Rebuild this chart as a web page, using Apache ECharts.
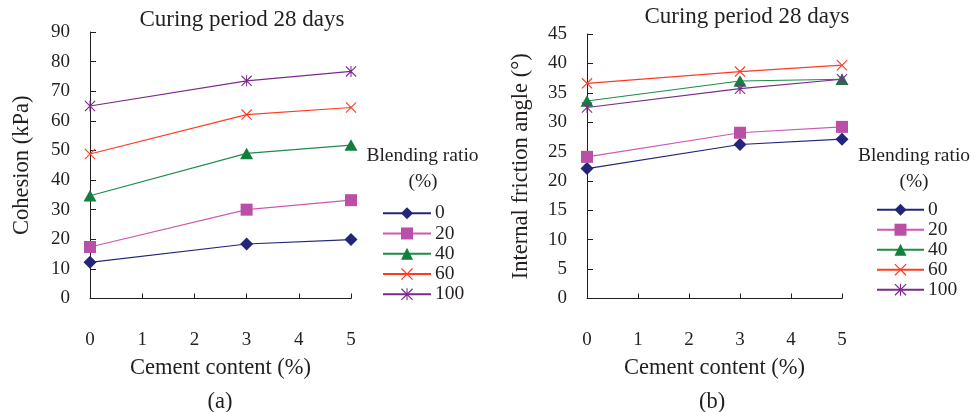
<!DOCTYPE html>
<html>
<head>
<meta charset="utf-8">
<script src="https://cdn.jsdelivr.net/npm/echarts@6/dist/echarts.min.js"></script>
<style>
html,body{margin:0;padding:0;background:#fff;}
#chart{width:974px;height:412px;}
</style>
</head>
<body>
<div id="chart"></div>
<script>
// ---- data ----
var cementContent = [0, 3, 5];
var blendingRatios = ['0', '20', '40', '60', '100'];
var xTicks = [0, 1, 2, 3, 4, 5];
// (a) Cohesion (kPa)
var cohesion0 = [12.2, 18.4, 19.9];
var cohesion20 = [17.4, 30.0, 33.2];
var cohesion40 = [34.7, 49.0, 51.8];
var cohesion60 = [48.8, 62.1, 64.5];
var cohesion100 = [65.0, 73.5, 76.7];
// (b) Internal friction angle (deg)
var friction0 = [22.1, 26.2, 27.1];
var friction20 = [24.1, 28.2, 29.2];
var friction40 = [33.6, 37.0, 37.3];
var friction60 = [36.6, 38.6, 39.7];
var friction100 = [32.5, 35.7, 37.3];

var FONT = '"Liberation Serif", "Times New Roman", serif';
var TXT = '#231f20';

var X_PATH = 'path://M0,0.7L0.7,0L10,9.3L9.3,10Z M9.3,0L10,0.7L0.7,10L0,9.3Z';
var STAR_PATH = 'path://M0,0.7L0.7,0L10,9.3L9.3,10Z M9.3,0L10,0.7L0.7,10L0,9.3Z M4.55,0L5.45,0L5.45,10L4.55,10Z';

var styles = [
  {line: '#23267a', fill: '#22267a', symbol: 'diamond', size: 13},
  {line: '#cc58b6', fill: '#b94fa6', symbol: 'rect', size: 12},
  {line: '#1e8c4a', fill: '#11803f', symbol: 'triangle', size: [13, 11.5]},
  {line: '#ff3a22', fill: '#ff3a22', symbol: X_PATH, size: 11},
  {line: '#7b2a8a', fill: '#7b2a8a', symbol: STAR_PATH, size: 11}
];

function pairs(vals) {
  return cementContent.map(function (x, i) { return [x, vals[i]]; });
}

function makeSeries(idx, valsList) {
  return valsList.map(function (vals, k) {
    var s = styles[k];
    return {
      name: blendingRatios[k],
      type: 'line',
      xAxisIndex: idx,
      yAxisIndex: idx,
      data: pairs(vals),
      symbol: s.symbol,
      symbolSize: s.size,
      showAllSymbol: true,
      lineStyle: {color: s.line, width: 1.2},
      itemStyle: {color: s.fill},
      emphasis: {disabled: true},
      animation: false
    };
  });
}

function xAxis(idx) {
  return {
    gridIndex: idx,
    type: 'value',
    min: 0, max: 5, interval: 1,
    name: 'Cement content (%)',
    nameLocation: 'middle',
    nameGap: 58,
    nameTextStyle: {fontFamily: FONT, fontSize: 22.5, color: TXT},
    axisLine: {show: true, lineStyle: {color: '#231f20', width: 1}},
    axisTick: {show: true, inside: true, length: 5, lineStyle: {color: '#231f20'}},
    axisLabel: {fontFamily: FONT, fontSize: 19, color: TXT, margin: 32,
      formatter: function (v) { return xTicks.indexOf(v) >= 0 ? String(v) : ''; }},
    splitLine: {show: false}
  };
}

function yAxis(idx, max, interval, name, gap) {
  return {
    gridIndex: idx,
    type: 'value',
    min: 0, max: max, interval: interval,
    name: name,
    nameLocation: 'middle',
    nameGap: gap,
    nameTextStyle: {fontFamily: FONT, fontSize: 22.5, color: TXT},
    axisLine: {show: true, lineStyle: {color: '#231f20', width: 1}},
    axisTick: {show: true, inside: true, length: 6, lineStyle: {color: '#231f20'}},
    axisLabel: {fontFamily: FONT, fontSize: 19, color: TXT, margin: 20},
    splitLine: {show: false}
  };
}

function legend(left, top, lh, w) {
  return {
    orient: 'vertical',
    left: left, top: top,
    itemWidth: w, itemHeight: 15, itemGap: 0,
    padding: 0,
    selectedMode: false,
    data: blendingRatios,
    textStyle: {fontFamily: FONT, fontSize: 19.5, color: TXT, lineHeight: lh, padding: [0, 0, 0, -1]}
  };
}

function text(str, x, y, size) {
  return {
    type: 'text', x: x, y: y, silent: true,
    style: {text: str, fontFamily: FONT, fontSize: size, fill: TXT, align: 'center', verticalAlign: 'middle'}
  };
}

var chart = echarts.init(document.getElementById('chart'), null, {renderer: 'canvas'});
chart.setOption({
  animation: false,
  backgroundColor: '#ffffff',
  grid: [
    {left: 90, right: 623, top: 32, bottom: 113.5},
    {left: 587, right: 132, top: 34, bottom: 113.5}
  ],
  xAxis: [xAxis(0), xAxis(1)],
  yAxis: [
    yAxis(0, 90, 10, 'Cohesion (kPa)', 56),
    yAxis(1, 45, 5, 'Internal friction angle (°)', 54)
  ],
  legend: [legend(382, 203, 20.3, 48), legend(876, 199.7, 18.6, 47)],
  tooltip: {show: false},
  graphic: [
    text('Curing period 28 days', 242, 20, 23),
    text('Curing period 28 days', 747, 17, 23),
    text('Blending ratio', 422.5, 156, 19.5),
    text('(%)', 423, 182, 19.5),
    text('Blending ratio', 914, 156, 19.5),
    text('(%)', 914, 182, 19.5),
    text('(a)', 220, 402, 22.5),
    text('(b)', 712, 402, 22.5)
  ],
  series: makeSeries(0, [cohesion0, cohesion20, cohesion40, cohesion60, cohesion100])
    .concat(makeSeries(1, [friction0, friction20, friction40, friction60, friction100]))
});
</script>
</body>
</html>
